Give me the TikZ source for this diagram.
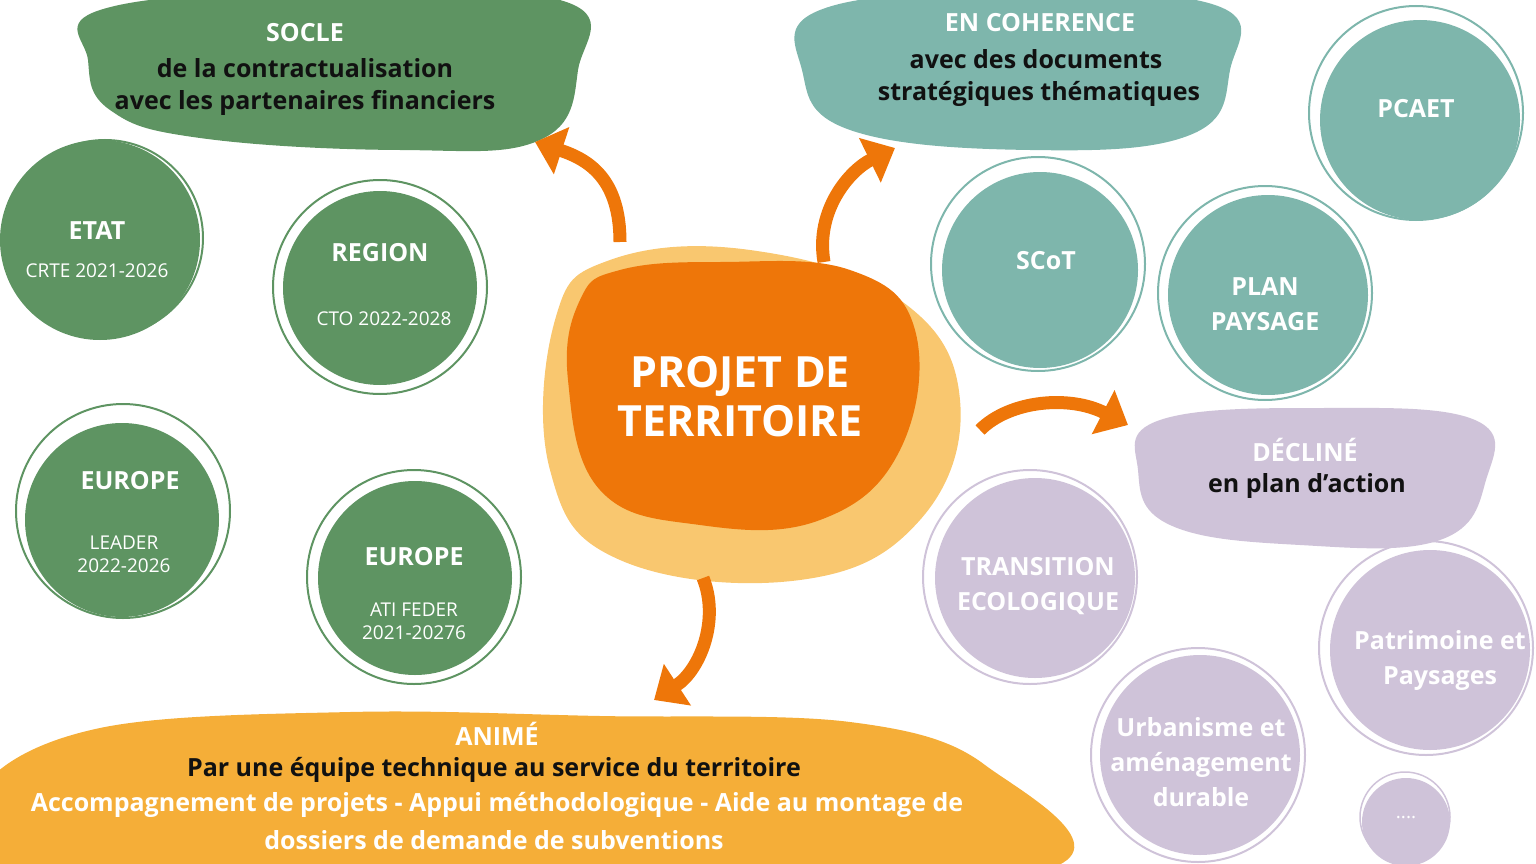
\documentclass[tikz,border=0pt]{standalone}
\usepackage{fontspec}
\setmainfont{Open Sans}
\usetikzlibrary{arrows.meta}
\definecolor{grn}{HTML}{5E9462}
\definecolor{teal}{HTML}{7EB6AC}
\definecolor{lav}{HTML}{CFC3D9}
\definecolor{org}{HTML}{EE7609}
\definecolor{lorg}{HTML}{F9C76F}
\definecolor{yel}{HTML}{F5AE38}
\definecolor{dk}{HTML}{111111}
\begin{document}
\begin{tikzpicture}[x=1pt,y=-1pt,
  t/.style={font=\fontsize{25}{30}\selectfont\bfseries,text=white},
  d/.style={font=\fontsize{25}{30}\selectfont\bfseries,text=dk},
  s/.style={font=\fontsize{19}{23}\selectfont,text=white},
  ring/.style={line width=2pt},
  arr/.style={draw=org,line width=13pt,-{Triangle[length=28pt,width=48pt]}}]
\useasboundingbox (0,0) rectangle (1536,864);
% blobs
\fill[grn] plot[smooth cycle,tension=0.7] coordinates{(100,10)(300,-8)(560,0)(578,70)(540,140)(400,150)(200,138)(110,110)(88,60)};
\fill[teal] plot[smooth cycle,tension=0.7] coordinates{(820,10)(1000,-8)(1215,5)(1230,70)(1190,135)(1030,150)(850,130)(802,70)};
\fill[lav] plot[smooth cycle,tension=0.7] coordinates{(1160,420)(1320,408)(1475,420)(1486,480)(1440,540)(1300,545)(1170,525)(1138,470)};
\fill[yel] plot[smooth cycle,tension=0.6] coordinates{(-20,790)(100,728)(350,712)(600,716)(850,722)(985,765)(1045,870)(500,900)(-20,890)};
\fill[lorg] plot[smooth cycle,tension=0.7] coordinates{(610,260)(750,250)(900,300)(960,400)(920,520)(800,580)(620,560)(550,470)(555,320)};
\fill[org] plot[smooth cycle,tension=0.7] coordinates{(620,270)(720,262)(850,270)(915,330)(900,450)(820,520)(700,525)(600,490)(568,380)(580,300)};
\node[font=\fontsize{43}{49}\selectfont\bfseries,text=white,align=center] (pdt) at (740,397) {PROJET DE\\TERRITOIRE};
% texts of blobs
\node[t] (socle) at (305,33) {SOCLE};
\node[d] at (305,68) {de la contractualisation};
\node[d] at (305,103) {avec les partenaires financiers};
\node[t] (coh) at (1040,23) {EN COHERENCE};
\node[d] at (1036,59) {avec des documents};
\node[d] at (1039,94) {stratégiques thématiques};
\node[t] (dec) at (1305,450) {DÉCLINÉ};
\node[d] at (1307,486) {en plan d'action};
\node[t] (anim) at (497,734) {ANIMÉ};
\node[d] at (494,770) {Par une équipe technique au service du territoire};
\node[t] at (497,805) {Accompagnement de projets - Appui méthodologique - Aide au montage de};
\node[t] at (494,840) {dossiers de demande de subventions};
% circles
\fill[grn] (100,240) circle (100); \draw[ring,grn] (105,238) circle (98);
\fill[grn] (380,288) circle (97); \draw[ring,grn] (380,287) circle (107);
\fill[grn] (122,520) circle (97); \draw[ring,grn] (123,511) circle (107);
\fill[grn] (415,578) circle (97); \draw[ring,grn] (414,577) circle (107);
\fill[teal] (1040,270) circle (98); \draw[ring,teal] (1038,264) circle (107);
\fill[teal] (1420,120) circle (100); \draw[ring,teal] (1416,113) circle (107);
\fill[teal] (1268,295) circle (100); \draw[ring,teal] (1265,293) circle (107);
\fill[lav] (1035,578) circle (100); \draw[ring,lav] (1030,577) circle (107);
\fill[lav] (1200,755) circle (100); \draw[ring,lav] (1198,755) circle (107);
\fill[lav] (1430,650) circle (100); \draw[ring,lav] (1426,648) circle (107);
\fill[lav] (1406,822) circle (44); \draw[line width=1.5pt,lav] (1405,817) circle (45);
\node[t] at (97,231) {ETAT}; \node[s] at (97,271) {CRTE 2021-2026};
\node[t] at (380,253) {REGION}; \node[s] at (384,319) {CTO 2022-2028};
\node[t] at (130,481) {EUROPE}; \node[s,align=center] at (124,554) {LEADER\\2022-2026};
\node[t] at (414,557) {EUROPE}; \node[s,align=center] at (414,621) {ATI FEDER\\2021-20276};
\node[t] at (1046,261) {SCoT};
\node[t] at (1416,109) {PCAET};
\node[t,align=center,font=\fontsize{25}{35}\selectfont\bfseries] at (1265,304) {PLAN\\PAYSAGE};
\node[t,align=center,font=\fontsize{25}{35}\selectfont\bfseries] at (1038,586) {TRANSITION\\ECOLOGIQUE};
\node[t,align=center,font=\fontsize{25}{35}\selectfont\bfseries] at (1201,762) {Urbanisme et\\aménagement\\durable};
\node[t,align=center,font=\fontsize{25}{35}\selectfont\bfseries] at (1440,660) {Patrimoine et\\Paysages};
\node[s] at (1406,818) {....};
% arrows
\coordinate (a1s) at (620,242); \coordinate (a1e) at (535,142);
\coordinate (a2s) at (824,262); \coordinate (a2e) at (895,148);
\coordinate (a3s) at (980,430); \coordinate (a3e) at (1128,425);
\coordinate (a4s) at (703,578); \coordinate (a4e) at (654,700);
\draw[arr] (a1s) .. controls (620,180) and (590,160) .. (a1e);
\draw[arr] (a2s) .. controls (815,210) and (850,170) .. (a2e);
\draw[arr] (a3s) .. controls (1010,400) and (1070,395) .. (a3e);
\draw[arr] (a4s) .. controls (720,620) and (700,670) .. (a4e);
\end{tikzpicture}
\end{document}
